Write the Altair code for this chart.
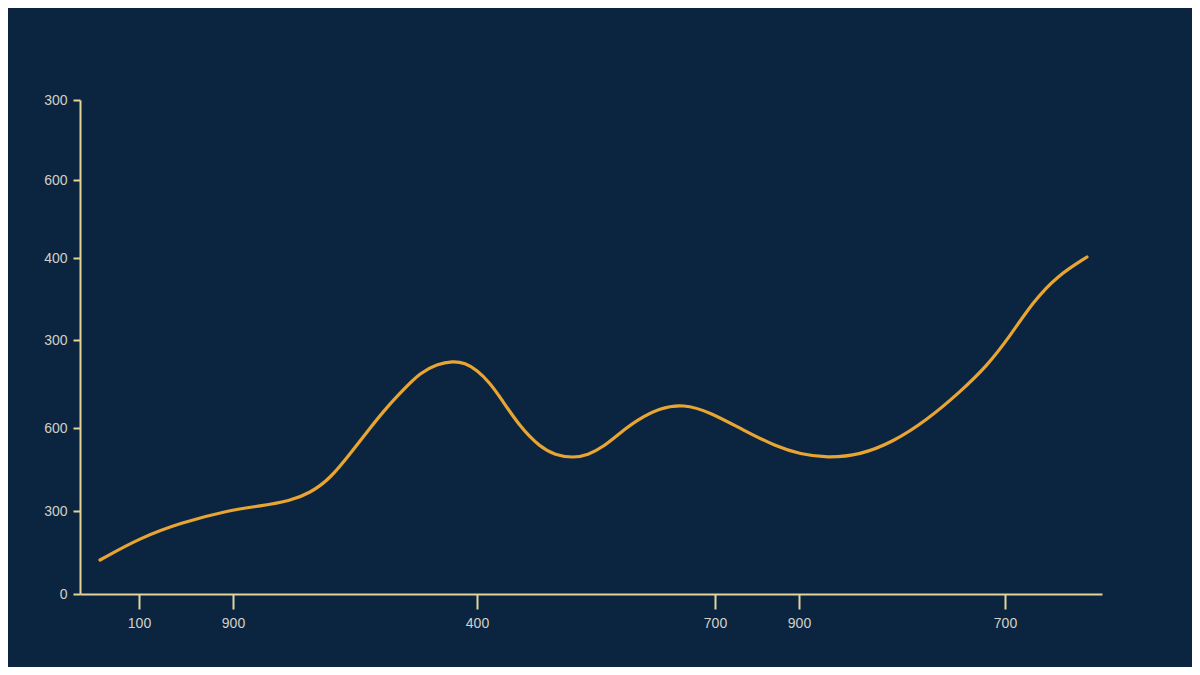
import altair as alt
import pandas as pd

# Line series
xs = [20, 60, 100, 150, 180, 210, 230, 250, 273, 290, 307, 325, 340, 357, 373, 385,
      397, 410, 420, 440, 460, 475, 493, 508, 523, 540, 557, 580, 603, 630, 663, 697, 720,
      747, 780, 813, 847, 880, 907, 930, 953, 977, 1007]
ys = [34, 56, 71, 84, 88, 93, 101, 115, 144, 166, 187, 206, 221, 230, 233, 231,
      224, 211, 197, 167, 147, 139, 136, 139, 147, 161, 174, 186, 190, 182, 164, 147, 140,
      136, 139, 152, 174, 202, 228, 258, 292, 318, 337]

# Axis ticks and their (printed) labels
x_ticks = [59, 153, 397, 635, 719, 925]
x_labels = ["100", "900", "400", "700", "900", "700"]
y_ticks = [0, 83, 166, 254, 336, 414, 494]
y_labels = ["0", "300", "600", "300", "400", "600", "300"]

df = pd.DataFrame({"x": xs, "y": ys})


def label_expr(ticks, labels):
    arr_t = "[" + ",".join(str(t) for t in ticks) + "]"
    arr_l = "[" + ",".join("'" + l + "'" for l in labels) + "]"
    return f"{arr_l}[indexof({arr_t}, datum.value)]"


BG = "#0B2541"
AXIS = "#E3D49A"
LABEL = "#D3D0C6"
LINE = "#E9A532"

chart = (
    alt.Chart(df)
    .mark_line(color=LINE, strokeWidth=3.2, interpolate="basis", strokeCap="round")
    .encode(
        x=alt.X(
            "x:Q",
            scale=alt.Scale(domain=[0, 1022], nice=False, zero=False),
            axis=alt.Axis(
                values=x_ticks,
                labelExpr=label_expr(x_ticks, x_labels),
                title=None,
                grid=False,
                domainColor=AXIS,
                domainWidth=2,
                tickColor=AXIS,
                tickWidth=2,
                tickSize=15,
                labelColor=LABEL,
                labelFontSize=14,
                labelFont="Liberation Sans",
                labelPadding=7,
            ),
        ),
        y=alt.Y(
            "y:Q",
            scale=alt.Scale(domain=[0, 494], nice=False, zero=False),
            axis=alt.Axis(
                values=y_ticks,
                labelExpr=label_expr(y_ticks, y_labels),
                title=None,
                grid=False,
                domainColor=AXIS,
                domainWidth=2,
                tickColor=AXIS,
                tickWidth=2,
                tickSize=7,
                labelColor=LABEL,
                labelFontSize=14,
                labelFont="Liberation Sans",
                labelPadding=6,
            ),
        ),
    )
    .properties(
        width=1022,
        height=494,
        background=BG,
        autosize=alt.AutoSizeParams(type="none"),
        padding={"left": 72, "top": 92, "right": 90, "bottom": 73},
    )
    .configure_view(stroke=None)
)

chart.save("out.html", embed_options={"renderer": "svg", "actions": False})
